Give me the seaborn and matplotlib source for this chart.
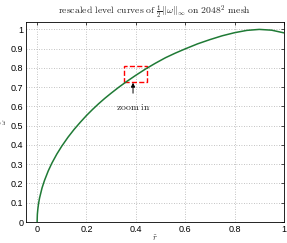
import matplotlib
matplotlib.use("Agg")
import matplotlib.pyplot as plt
import seaborn as sns
import pandas as pd
from matplotlib.patches import Rectangle

r_vals = [0.000, 0.001, 0.003, 0.006, 0.010, 0.020, 0.030, 0.045, 0.060, 0.080,
          0.100, 0.125, 0.150, 0.175, 0.200, 0.225, 0.250, 0.275, 0.300, 0.330,
          0.360, 0.400, 0.440, 0.480, 0.520, 0.560, 0.600, 0.650, 0.700, 0.750,
          0.800, 0.850, 0.900, 0.950, 1.000]
w_vals = [0.000, 0.040, 0.068, 0.097, 0.125, 0.177, 0.216, 0.265, 0.306, 0.353,
          0.394, 0.440, 0.481, 0.518, 0.553, 0.585, 0.615, 0.643, 0.669, 0.699,
          0.727, 0.762, 0.795, 0.825, 0.853, 0.877, 0.899, 0.925, 0.947, 0.967,
          0.983, 0.995, 1.000, 0.996, 0.982]
x_ticks = [0, 0.2, 0.4, 0.6, 0.8, 1]
x_ticklabels = ["0", "0.2", "0.4", "0.6", "0.8", "1"]
y_ticks = [0, 0.1, 0.2, 0.3, 0.4, 0.5, 0.6, 0.7, 0.8, 0.9, 1]
y_ticklabels = ["0", "0.1", "0.2", "0.3", "0.4", "0.5", "0.6", "0.7", "0.8", "0.9", "1"]
zoom_box = (0.351, 0.728, 0.446, 0.810)

sns.set_style("white")
plt.rcParams["font.family"] = ["Liberation Sans", "DejaVu Sans"]
plt.rcParams["mathtext.fontset"] = "cm"

fig = plt.figure(figsize=(2.87, 2.43), dpi=100)
ax = fig.add_axes([0.0906, 0.0864, 0.8989, 0.8243])

df = pd.DataFrame({"r": r_vals, "w": w_vals})
sns.lineplot(data=df, x="r", y="w", ax=ax, color="#1f7a35", linewidth=1.1,
             sort=False, estimator=None)

ax.set_xlim(-0.045, 1.0)
ax.set_ylim(0, 1.04)
ax.set_xticks(x_ticks)
ax.set_xticklabels(x_ticklabels)
ax.set_yticks(y_ticks)
ax.set_yticklabels(y_ticklabels)
ax.tick_params(direction="in", length=2, width=0.5, labelsize=6.5, pad=2,
               colors="black", top=True, right=True)
ax.grid(True, linestyle=(0, (1, 2)), color="#b0b0b0", linewidth=0.6)
for s in ax.spines.values():
    s.set_visible(True)
    s.set_color("black")
    s.set_linewidth(0.6)

x0, y0, x1, y1 = zoom_box
ax.add_patch(Rectangle((x0, y0), x1 - x0, y1 - y0, fill=False,
                       edgecolor="red", linestyle="--", linewidth=1.0))
ax.annotate(r"$\mathrm{zoom\ in}$", xy=((x0 + x1) / 2 - 0.01, y0 - 0.005),
            xytext=((x0 + x1) / 2 - 0.01, 0.597), ha="center", va="center",
            fontsize=7, arrowprops=dict(arrowstyle="-|>", color="black",
                                        lw=0.7, mutation_scale=6, shrinkA=4, shrinkB=0))

ax.set_xlabel(r"$\tilde{r}$", fontsize=6, labelpad=0)
ax.set_ylabel(r"$\tilde{\omega}$", fontsize=5, labelpad=1)
ax.set_title(r"$\mathrm{rescaled\ level\ curves\ of\ }\frac{1}{2}\|\omega\|_\infty\mathrm{\ on\ }2048^2\mathrm{\ mesh}$",
             fontsize=7, pad=5)

fig.savefig("out.png", dpi=100)
